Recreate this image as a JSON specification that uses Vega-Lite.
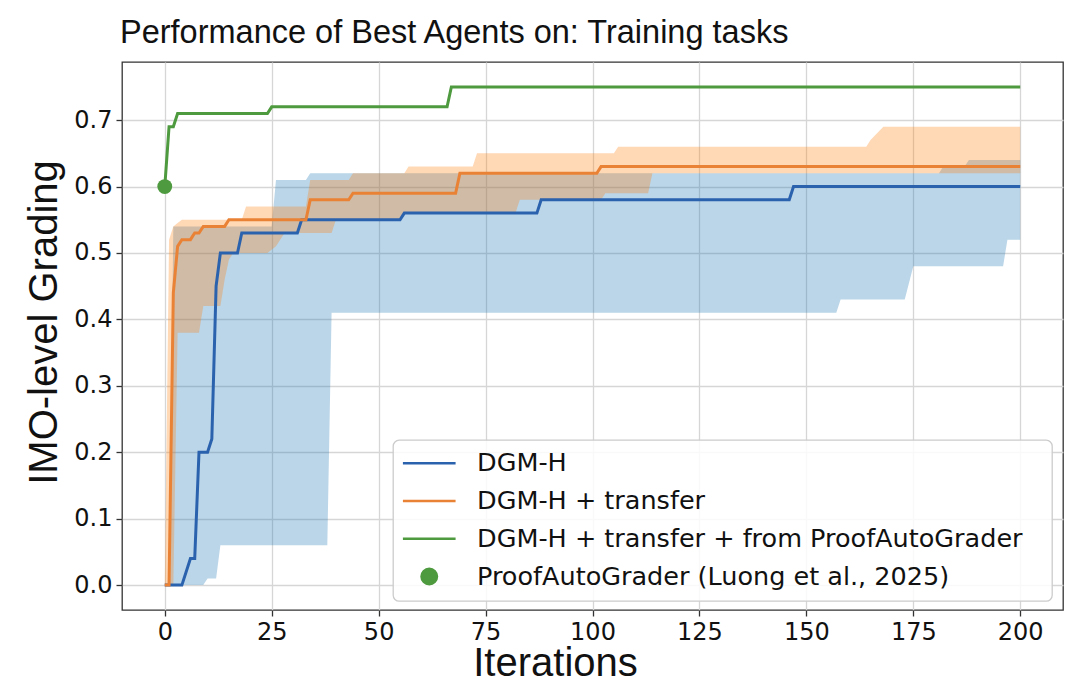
{
  "$schema": "https://vega.github.io/schema/vega-lite/v6.json",
  "width": 941,
  "height": 548,
  "autosize": "none",
  "padding": {"left": 122, "top": 62, "right": 17, "bottom": 83},
  "background": "white",
  "title": {
    "text": "Performance of Best Agents on: Training tasks",
    "anchor": "start",
    "frame": "group",
    "baseline": "alphabetic",
    "offset": 18,
    "dy": 31,
    "dx": -2,
    "font": "Liberation Sans",
    "fontSize": 32.5,
    "fontWeight": "normal",
    "color": "#111"
  },
  "datasets": {
    "bands": [
      {"series": "DGM-H", "iter": 0, "lower": 0, "upper": 0},
      {"series": "DGM-H", "iter": 1, "lower": 0, "upper": 0},
      {"series": "DGM-H", "iter": 2, "lower": 0, "upper": 0.54},
      {"series": "DGM-H", "iter": 9, "lower": 0, "upper": 0.54},
      {"series": "DGM-H", "iter": 10, "lower": 0.01, "upper": 0.54},
      {"series": "DGM-H", "iter": 12, "lower": 0.01, "upper": 0.54},
      {"series": "DGM-H", "iter": 13, "lower": 0.06, "upper": 0.54},
      {"series": "DGM-H", "iter": 25, "lower": 0.06, "upper": 0.54},
      {"series": "DGM-H", "iter": 26, "lower": 0.06, "upper": 0.61},
      {"series": "DGM-H", "iter": 33, "lower": 0.06, "upper": 0.61},
      {"series": "DGM-H", "iter": 34, "lower": 0.06, "upper": 0.62},
      {"series": "DGM-H", "iter": 38, "lower": 0.06, "upper": 0.62},
      {"series": "DGM-H", "iter": 39, "lower": 0.41, "upper": 0.62},
      {"series": "DGM-H", "iter": 157, "lower": 0.41, "upper": 0.62},
      {"series": "DGM-H", "iter": 158, "lower": 0.43, "upper": 0.62},
      {"series": "DGM-H", "iter": 173, "lower": 0.43, "upper": 0.62},
      {"series": "DGM-H", "iter": 175, "lower": 0.48, "upper": 0.62},
      {"series": "DGM-H", "iter": 181, "lower": 0.48, "upper": 0.62},
      {"series": "DGM-H", "iter": 182, "lower": 0.48, "upper": 0.63},
      {"series": "DGM-H", "iter": 187, "lower": 0.48, "upper": 0.63},
      {"series": "DGM-H", "iter": 188, "lower": 0.48, "upper": 0.64},
      {"series": "DGM-H", "iter": 196, "lower": 0.48, "upper": 0.64},
      {"series": "DGM-H", "iter": 197, "lower": 0.52, "upper": 0.64},
      {"series": "DGM-H", "iter": 200, "lower": 0.52, "upper": 0.64},
      {"series": "DGM-H + transfer", "iter": 0, "lower": 0, "upper": 0},
      {"series": "DGM-H + transfer", "iter": 1, "lower": 0, "upper": 0.52},
      {"series": "DGM-H + transfer", "iter": 2, "lower": 0, "upper": 0.54},
      {"series": "DGM-H + transfer", "iter": 3, "lower": 0.38, "upper": 0.545},
      {"series": "DGM-H + transfer", "iter": 4, "lower": 0.38, "upper": 0.55},
      {"series": "DGM-H + transfer", "iter": 8, "lower": 0.38, "upper": 0.55},
      {"series": "DGM-H + transfer", "iter": 9, "lower": 0.42, "upper": 0.55},
      {"series": "DGM-H + transfer", "iter": 13, "lower": 0.42, "upper": 0.55},
      {"series": "DGM-H + transfer", "iter": 14, "lower": 0.46, "upper": 0.55},
      {"series": "DGM-H + transfer", "iter": 15, "lower": 0.49, "upper": 0.55},
      {"series": "DGM-H + transfer", "iter": 16, "lower": 0.5, "upper": 0.55},
      {"series": "DGM-H + transfer", "iter": 18, "lower": 0.5, "upper": 0.55},
      {"series": "DGM-H + transfer", "iter": 19, "lower": 0.5, "upper": 0.57},
      {"series": "DGM-H + transfer", "iter": 24, "lower": 0.5, "upper": 0.57},
      {"series": "DGM-H + transfer", "iter": 26, "lower": 0.51, "upper": 0.57},
      {"series": "DGM-H + transfer", "iter": 28, "lower": 0.53, "upper": 0.57},
      {"series": "DGM-H + transfer", "iter": 33, "lower": 0.53, "upper": 0.57},
      {"series": "DGM-H + transfer", "iter": 34, "lower": 0.53, "upper": 0.61},
      {"series": "DGM-H + transfer", "iter": 39, "lower": 0.53, "upper": 0.61},
      {"series": "DGM-H + transfer", "iter": 40, "lower": 0.55, "upper": 0.61},
      {"series": "DGM-H + transfer", "iter": 43, "lower": 0.55, "upper": 0.61},
      {"series": "DGM-H + transfer", "iter": 44, "lower": 0.55, "upper": 0.62},
      {"series": "DGM-H + transfer", "iter": 55, "lower": 0.55, "upper": 0.62},
      {"series": "DGM-H + transfer", "iter": 56, "lower": 0.56, "upper": 0.62},
      {"series": "DGM-H + transfer", "iter": 57, "lower": 0.56, "upper": 0.63},
      {"series": "DGM-H + transfer", "iter": 72, "lower": 0.56, "upper": 0.63},
      {"series": "DGM-H + transfer", "iter": 73, "lower": 0.56, "upper": 0.65},
      {"series": "DGM-H + transfer", "iter": 82, "lower": 0.56, "upper": 0.65},
      {"series": "DGM-H + transfer", "iter": 83, "lower": 0.58, "upper": 0.65},
      {"series": "DGM-H + transfer", "iter": 102, "lower": 0.58, "upper": 0.65},
      {"series": "DGM-H + transfer", "iter": 103, "lower": 0.59, "upper": 0.65},
      {"series": "DGM-H + transfer", "iter": 105, "lower": 0.59, "upper": 0.65},
      {"series": "DGM-H + transfer", "iter": 106, "lower": 0.59, "upper": 0.66},
      {"series": "DGM-H + transfer", "iter": 113, "lower": 0.59, "upper": 0.66},
      {"series": "DGM-H + transfer", "iter": 114, "lower": 0.62, "upper": 0.66},
      {"series": "DGM-H + transfer", "iter": 164, "lower": 0.62, "upper": 0.66},
      {"series": "DGM-H + transfer", "iter": 165, "lower": 0.62, "upper": 0.67},
      {"series": "DGM-H + transfer", "iter": 168, "lower": 0.62, "upper": 0.69},
      {"series": "DGM-H + transfer", "iter": 200, "lower": 0.62, "upper": 0.69}
    ],
    "lines": [
      {"series": "DGM-H", "iter": 0, "value": 0},
      {"series": "DGM-H", "iter": 4, "value": 0},
      {"series": "DGM-H", "iter": 6, "value": 0.04},
      {"series": "DGM-H", "iter": 7, "value": 0.04},
      {"series": "DGM-H", "iter": 8, "value": 0.2},
      {"series": "DGM-H", "iter": 10, "value": 0.2},
      {"series": "DGM-H", "iter": 11, "value": 0.22},
      {"series": "DGM-H", "iter": 12, "value": 0.45},
      {"series": "DGM-H", "iter": 13, "value": 0.5},
      {"series": "DGM-H", "iter": 17, "value": 0.5},
      {"series": "DGM-H", "iter": 18, "value": 0.53},
      {"series": "DGM-H", "iter": 31, "value": 0.53},
      {"series": "DGM-H", "iter": 32, "value": 0.55},
      {"series": "DGM-H", "iter": 55, "value": 0.55},
      {"series": "DGM-H", "iter": 56, "value": 0.56},
      {"series": "DGM-H", "iter": 87, "value": 0.56},
      {"series": "DGM-H", "iter": 88, "value": 0.58},
      {"series": "DGM-H", "iter": 146, "value": 0.58},
      {"series": "DGM-H", "iter": 147, "value": 0.6},
      {"series": "DGM-H", "iter": 200, "value": 0.6},
      {"series": "DGM-H + transfer", "iter": 0, "value": 0},
      {"series": "DGM-H + transfer", "iter": 1, "value": 0},
      {"series": "DGM-H + transfer", "iter": 2, "value": 0.44},
      {"series": "DGM-H + transfer", "iter": 3, "value": 0.51},
      {"series": "DGM-H + transfer", "iter": 4, "value": 0.52},
      {"series": "DGM-H + transfer", "iter": 6, "value": 0.52},
      {"series": "DGM-H + transfer", "iter": 7, "value": 0.53},
      {"series": "DGM-H + transfer", "iter": 8, "value": 0.53},
      {"series": "DGM-H + transfer", "iter": 9, "value": 0.54},
      {"series": "DGM-H + transfer", "iter": 14, "value": 0.54},
      {"series": "DGM-H + transfer", "iter": 15, "value": 0.55},
      {"series": "DGM-H + transfer", "iter": 33, "value": 0.55},
      {"series": "DGM-H + transfer", "iter": 34, "value": 0.58},
      {"series": "DGM-H + transfer", "iter": 43, "value": 0.58},
      {"series": "DGM-H + transfer", "iter": 44, "value": 0.59},
      {"series": "DGM-H + transfer", "iter": 68, "value": 0.59},
      {"series": "DGM-H + transfer", "iter": 69, "value": 0.62},
      {"series": "DGM-H + transfer", "iter": 101, "value": 0.62},
      {"series": "DGM-H + transfer", "iter": 102, "value": 0.63},
      {"series": "DGM-H + transfer", "iter": 200, "value": 0.63},
      {"series": "DGM-H + transfer + from ProofAutoGrader", "iter": 0, "value": 0.6},
      {"series": "DGM-H + transfer + from ProofAutoGrader", "iter": 1, "value": 0.69},
      {"series": "DGM-H + transfer + from ProofAutoGrader", "iter": 2, "value": 0.69},
      {"series": "DGM-H + transfer + from ProofAutoGrader", "iter": 3, "value": 0.71},
      {"series": "DGM-H + transfer + from ProofAutoGrader", "iter": 24, "value": 0.71},
      {"series": "DGM-H + transfer + from ProofAutoGrader", "iter": 25, "value": 0.72},
      {"series": "DGM-H + transfer + from ProofAutoGrader", "iter": 66, "value": 0.72},
      {"series": "DGM-H + transfer + from ProofAutoGrader", "iter": 67, "value": 0.75},
      {"series": "DGM-H + transfer + from ProofAutoGrader", "iter": 200, "value": 0.75}
    ],
    "points": [
      {"series": "ProofAutoGrader (Luong et al., 2025)", "iter": 0, "value": 0.6}
    ]
  },
  "config": {
    "font": "DejaVu Sans",
    "view": {"stroke": "#333333", "strokeWidth": 1.3},
    "axis": {
      "domain": false,
      "grid": true,
      "gridColor": "#d6d6d6",
      "gridWidth": 1.3,
      "tickColor": "#333333",
      "tickSize": 6,
      "tickWidth": 1.3,
      "labelFont": "DejaVu Sans",
      "labelFontSize": 24,
      "labelColor": "#111111",
      "titleFont": "Liberation Sans",
      "titleFontSize": 40,
      "titleFontWeight": "normal",
      "titleColor": "#111111"
    },
    "legend": {
      "orient": "none",
      "legendX": 271,
      "legendY": 378,
      "padding": 10.5,
      "fillColor": "rgba(255,255,255,0.85)",
      "strokeColor": "#cccccc",
      "strokeWidth": 1.3,
      "cornerRadius": 6,
      "labelFont": "DejaVu Sans",
      "labelFontSize": 25.5,
      "labelColor": "#111111",
      "labelLimit": 800,
      "rowPadding": 10.75,
      "symbolSize": 240,
      "symbolOffset": 13,
      "labelOffset": 35,
      "title": null
    }
  },
  "encoding": {
    "x": {
      "field": "iter",
      "type": "quantitative",
      "scale": {"domain": [-10, 210], "nice": false, "zero": false},
      "axis": {
        "values": [0, 25, 50, 75, 100, 125, 150, 175, 200],
        "title": "Iterations",
        "labelPadding": 4,
        "titleX": 433,
        "titleY": 65,
        "titleAlign": "center",
        "titleBaseline": "alphabetic"
      }
    }
  },
  "layer": [
    {
      "data": {"name": "bands"},
      "mark": {"type": "area", "opacity": 0.3, "interpolate": "linear"},
      "encoding": {
        "y": {"field": "lower", "type": "quantitative"},
        "y2": {"field": "upper"},
        "fill": {
          "field": "series",
          "type": "nominal",
          "scale": {"domain": ["DGM-H", "DGM-H + transfer"], "range": ["#1f77b4", "#ff7f0e"]},
          "legend": null
        }
      }
    },
    {
      "data": {"name": "lines"},
      "mark": {"type": "line", "strokeWidth": 3, "interpolate": "linear"},
      "encoding": {
        "y": {
          "field": "value",
          "type": "quantitative",
          "scale": {"domain": [-0.0375, 0.7875], "nice": false, "zero": false},
          "axis": {
            "values": [0, 0.1, 0.2, 0.3, 0.4, 0.5, 0.6, 0.7],
            "format": ".1f",
            "title": "IMO-level Grading",
            "labelPadding": 4,
            "titleX": -66,
            "titleY": 260,
            "titleAngle": -90,
            "titleAlign": "center",
            "titleBaseline": "alphabetic"
          }
        },
        "color": {
          "field": "series",
          "type": "nominal",
          "scale": {
            "domain": ["DGM-H", "DGM-H + transfer", "DGM-H + transfer + from ProofAutoGrader", "ProofAutoGrader (Luong et al., 2025)"],
            "range": ["#2b62ae", "#ea8236", "#4e9a3e", "#4e9a3e"]
          },
          "legend": {
            "labelExpr": "datum.label + '\u2800'",
            "encode": {
              "symbols": {
                "update": {
                  "shape": {"scale": "shape", "field": "value"},
                  "fill": {"scale": "color", "field": "value"},
                  "stroke": {"scale": "color", "field": "value"},
                  "strokeWidth": {"value": 2.5},
                  "opacity": {"value": 1},
                  "fillOpacity": {"value": 1},
                  "strokeOpacity": {"value": 1}
                }
              }
            }
          }
        }
      }
    },
    {
      "data": {"name": "points"},
      "mark": {"type": "point", "filled": true, "opacity": 1, "size": 220},
      "encoding": {
        "y": {"field": "value", "type": "quantitative"},
        "color": {"field": "series", "type": "nominal"},
        "shape": {
          "field": "series",
          "type": "nominal",
          "scale": {
            "domain": ["DGM-H", "DGM-H + transfer", "DGM-H + transfer + from ProofAutoGrader", "ProofAutoGrader (Luong et al., 2025)"],
            "range": ["M-3.4,0H3.4", "M-3.4,0H3.4", "M-3.4,0H3.4", "circle"]
          },
          "legend": null
        }
      }
    }
  ]
}
